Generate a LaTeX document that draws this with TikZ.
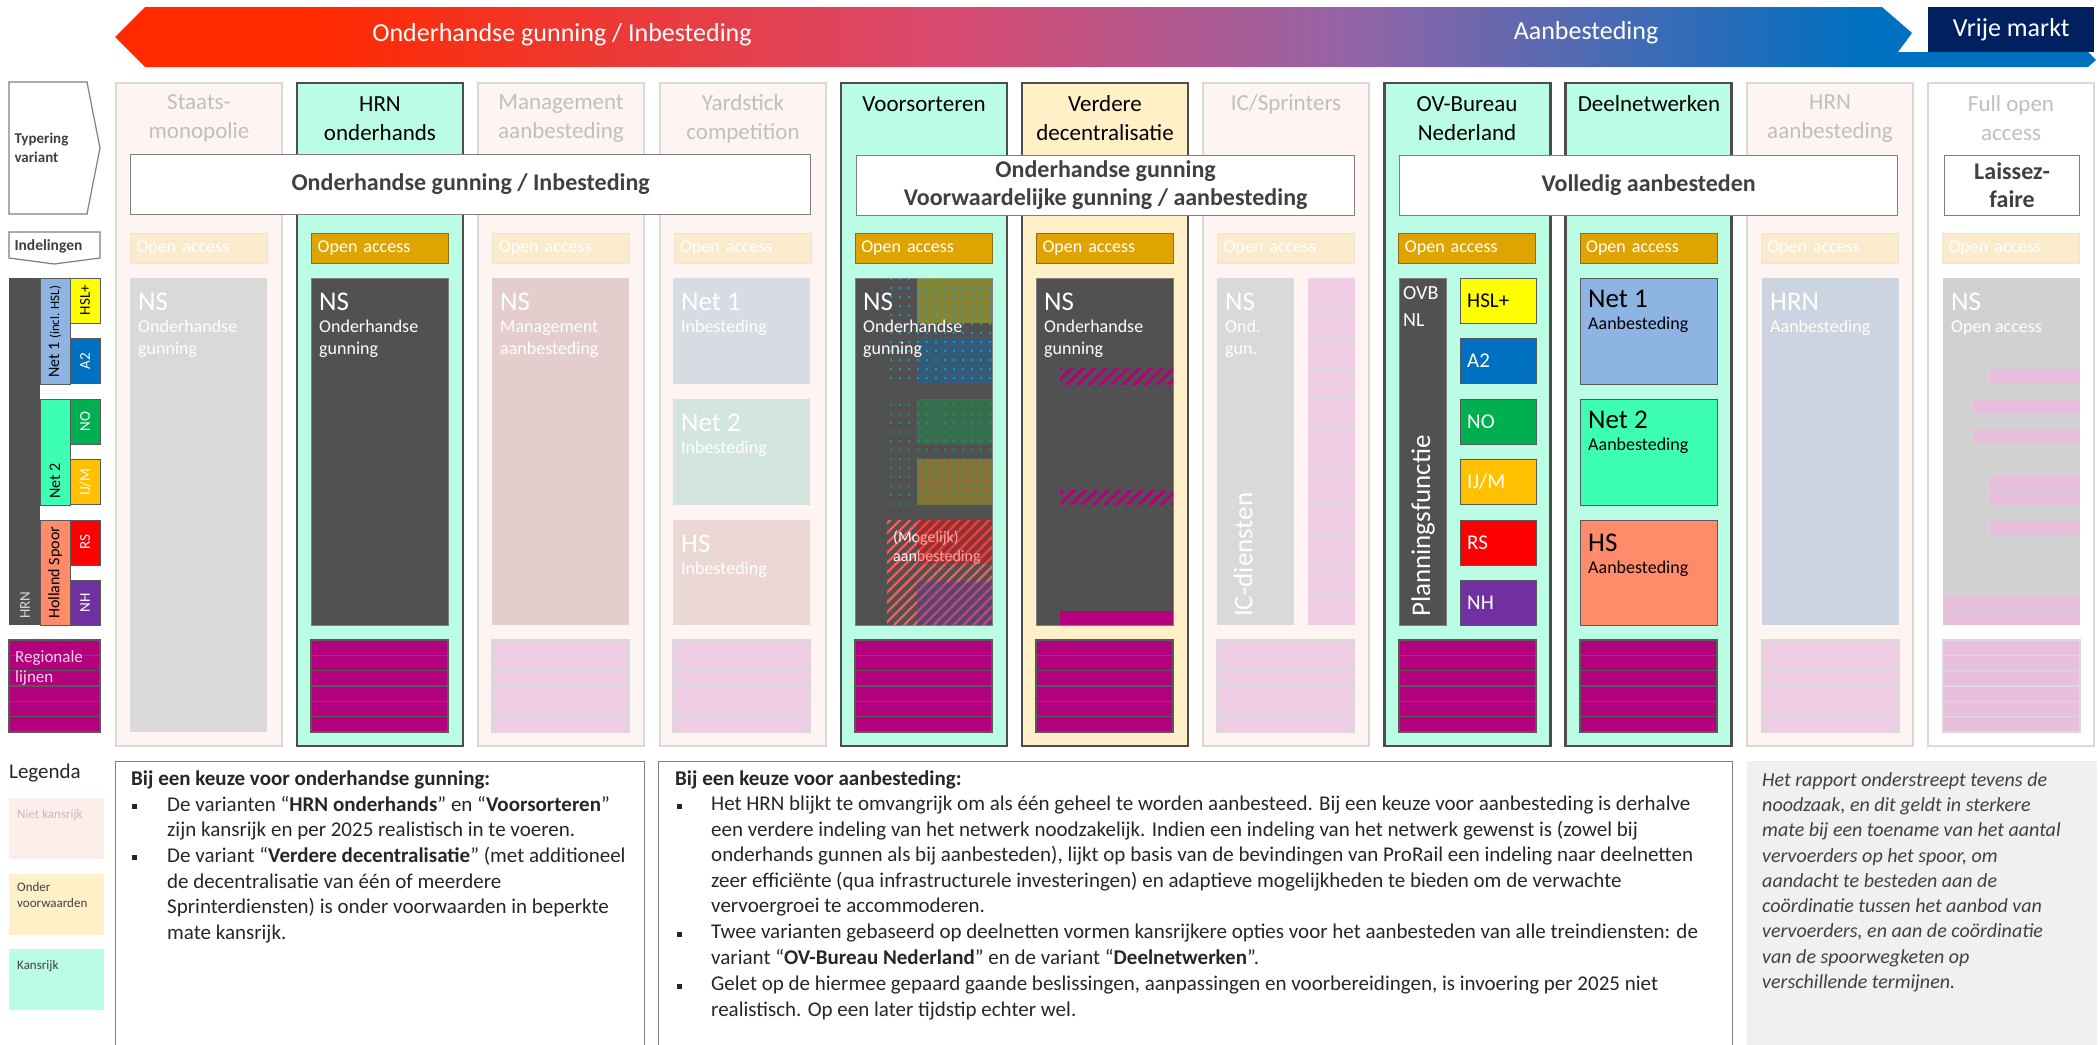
\documentclass[tikz,border=0pt]{standalone}
\usepackage{fontspec}
\setmainfont{Carlito}
\usetikzlibrary{patterns.meta,positioning}

\definecolor{kans}{HTML}{BAFDE4}
\definecolor{voorw}{HTML}{FFF0C8}
\definecolor{niet}{HTML}{FEF5F3}
\definecolor{nietleg}{HTML}{FDEEEB}
\definecolor{fadeline}{HTML}{D9D9D9}
\definecolor{darkline}{HTML}{4D4D4D}
\definecolor{darkbox}{HTML}{515151}
\definecolor{boxrand}{HTML}{7F7F7F}
\definecolor{dunrand}{HTML}{595959}
\definecolor{oagold}{HTML}{E0A400}
\definecolor{oarand}{HTML}{8C6D1F}
\definecolor{oafade}{HTML}{FAEBCD}
\definecolor{oafaderand}{HTML}{F0E3CC}
\definecolor{regmag}{HTML}{B3007D}
\definecolor{streep}{HTML}{595959}
\definecolor{regfade}{HTML}{EFCDE4}
\definecolor{lichtstreep}{HTML}{D9D9D9}
\definecolor{hslgeel}{HTML}{FFFF00}
\definecolor{atwee}{HTML}{0070C0}
\definecolor{nogroen}{HTML}{00B050}
\definecolor{ijmoranje}{HTML}{FFC000}
\definecolor{rsrood}{HTML}{FF0000}
\definecolor{nhpaars}{HTML}{7030A0}
\definecolor{neteen}{HTML}{8EB4E3}
\definecolor{nettwee}{HTML}{3CFFB4}
\definecolor{hszalm}{HTML}{FF8B6A}
\definecolor{fadetxt}{HTML}{BFBFBF}
\definecolor{kopgrijs}{HTML}{404040}
\definecolor{tekst}{HTML}{262626}
\definecolor{vrij}{HTML}{002060}
\definecolor{pijlrood}{HTML}{FF2A00}
\definecolor{pijlroze}{HTML}{D84A70}
\definecolor{pijlpaars}{HTML}{9664A6}
\definecolor{pijlblauw}{HTML}{0070C0}
\definecolor{kaderrand}{HTML}{7F7F7F}
\definecolor{nsgrijs}{HTML}{D9D9D9}
\definecolor{mgmtfade}{HTML}{E4CDCD}
\definecolor{netafade}{HTML}{D7DCE4}
\definecolor{netbfade}{HTML}{D3E5DE}
\definecolor{hsfade}{HTML}{EBD7D3}
\definecolor{hrnfade}{HTML}{CDD4E1}
\definecolor{opengrijs}{HTML}{D1D1D1}
\definecolor{roze}{HTML}{E8BEDD}
\definecolor{stipblauw}{HTML}{00B0F0}
\definecolor{arceerrood}{HTML}{FF5A5A}
\definecolor{grijsvak}{HTML}{F0F0F0}
\definecolor{regtxt}{HTML}{F4D2EA}

\newcommand{\kolomfont}{\fontsize{23}{29}\selectfont}
\newcommand{\typefont}{\fontsize{24}{28}\selectfont}
\newcommand{\grootfont}{\fontsize{27}{30}\selectfont}
\newcommand{\kleinfont}{\fontsize{18}{22}\selectfont}
\newcommand{\tekstfont}{\fontsize{21}{25.5}\selectfont}
\newcommand{\legfont}{\fontsize{13}{16}\selectfont}
\newcommand{\pijlfont}{\fontsize{26}{30}\selectfont}

\pgfdeclarehorizontalshading{pijlkleur}{100bp}{color(0bp)=(pijlrood); color(25bp)=(pijlrood); color(30bp)=(pijlrood); color(46bp)=(pijlroze); color(56bp)=(pijlpaars); color(69bp)=(pijlblauw); color(100bp)=(pijlblauw)}

\begin{document}
\begin{tikzpicture}[
    x=1pt, y=-1pt,
    typebox/.style={draw=kaderrand, fill=white, line width=1.2pt, anchor=north west, align=center, font=\typefont\bfseries, text=kopgrijs},
    oabox/.style={anchor=north west, minimum width=137pt, minimum height=30pt, text width=125pt, inner xsep=6pt, inner ysep=0pt, align=left, font=\kleinfont, text=white, line width=1pt},
    kolkop/.style={align=center, font=\kolomfont},
    bxtxt/.style={anchor=north west, align=left, inner sep=0pt, text=white, font=\kleinfont},
    vaktxt/.style={anchor=west, inner sep=0pt, font=\fontsize{21}{24}\selectfont},
    legtxt/.style={rotate=90, anchor=west, inner sep=0pt, font=\fontsize{16}{18}\selectfont},
    legvak/.style={rotate=90, inner sep=0pt, font=\fontsize{15}{18}\selectfont},
    alinea/.style={anchor=north west, align=left, inner sep=0pt, font=\tekstfont, text=tekst},
    kader/.style={draw=kaderrand, line width=1pt}
]
    \useasboundingbox (0,0) rectangle (2100,1044);

    \shade[shading=pijlkleur] (115,37) -- (145,7) -- (1882,7) -- (1912,33) -- (1898,52) -- (2088,52) -- (2096,60) -- (2088,67) -- (145,67) -- cycle;
    \node[fill=vrij, minimum width=166pt, minimum height=45pt, anchor=north west, inner sep=0pt, text=white, font=\pijlfont] (vrije) at (1928,7) {Vrije markt};
    \node[text=white, font=\pijlfont] (inbest) at (562,35) {Onderhandse gunning / Inbesteding};
    \node[text=white, font=\pijlfont] (aanbest) at (1586,33) {Aanbesteding};

    \draw[fill=white, draw=kaderrand, line width=1.2pt] (9,82) -- (87,82) -- (100,148) -- (87,214) -- (9,214) -- cycle;
    \node[anchor=west, align=left, font=\fontsize{15}{19}\selectfont\bfseries, text=kopgrijs] (typering) at (11,148) {Typering\\variant};
    \draw[fill=white, draw=kaderrand, line width=1.2pt] (9,232) -- (100,232) -- (100,258) -- (54,264) -- (9,258) -- cycle;
    \node[anchor=west, font=\fontsize{15.5}{19}\selectfont\bfseries, text=kopgrijs] (indelingen) at (11,246) {Indelingen};

    \fill[darkbox] (9,278) rectangle (40,625);
    \filldraw[fill=neteen, draw=dunrand] (40,278) rectangle (70,384);
    \filldraw[fill=nettwee, draw=dunrand] (40,399) rectangle (70,505);
    \filldraw[fill=hszalm, draw=dunrand] (40,520) rectangle (70,625);
    \foreach \y/\f in {278/hslgeel, 338/atwee, 399/nogroen, 459/ijmoranje, 520/rsrood, 580/nhpaars}
        \filldraw[fill=\f, draw=dunrand] (70,\y) rectangle ++(30,45);
    \node[legtxt, text=nsgrijs, font=\fontsize{15}{18}\selectfont] (lhrn) at (25,619) {HRN};
    \node[legtxt] (lneta) at (55,378) {Net 1 {\fontsize{13}{15}\selectfont(incl. HSL)}};
    \node[legtxt] (lnetb) at (55,499) {Net 2};
    \node[legtxt] (lhs) at (55,619) {Holland Spoor};
    \node[legvak] (lhsl) at (85,300) {HSL+};
    \node[legvak, text=white] (latwee) at (85,361) {A2};
    \node[legvak, text=white] (lno) at (85,421.5) {NO};
    \node[legvak, text=white] (lijm) at (85,482) {IJ/M};
    \node[legvak, text=white] (lrs) at (85,542.5) {RS};
    \node[legvak, text=white] (lnh) at (85,602.5) {NH};
    \filldraw[fill=regmag, draw=streep, line width=1.2pt] (9,640) rectangle (100,732);
    \foreach \k in {1,...,5}
        \draw[streep, line width=1.2pt] (9,{640+\k*92/6}) -- (100,{640+\k*92/6});
    \node[bxtxt, text=regtxt, font=\fontsize{17}{20}\selectfont] (lregio) at (15,650) {Regionale\\lijnen};

    \foreach \kol/\f/\d/\w in {1/niet/fadeline/2, 2/kans/darkline/2.5, 3/niet/fadeline/2, 4/niet/fadeline/2, 5/kans/darkline/2.5, 6/voorw/darkline/2.5, 7/niet/fadeline/2, 8/kans/darkline/2.5, 9/kans/darkline/2.5, 10/niet/fadeline/2, 11/white/fadeline/2}
        \draw[fill=\f, draw=\d, line width=\w pt] ({116+(\kol-1)*181.2},83) rectangle ++(166,663);

    \node[kolkop, text=fadetxt] (staats) at (199,118.5) {Staats-\\monopolie};
    \node[kolkop] (hrnonder) at (380,118.5) {HRN\\onderhands};
    \node[kolkop, text=fadetxt] (mgmt) at (561,118.5) {Management\\aanbesteding};
    \node[kolkop, text=fadetxt] (yard) at (743,118.5) {Yardstick\\competition};
    \node[kolkop] (voors) at (924,104) {Voorsorteren};
    \node[kolkop] (verdere) at (1105,118.5) {Verdere\\decentralisatie};
    \node[kolkop, text=fadetxt] (icspr) at (1286,104) {IC/Sprinters};
    \node[kolkop] (ovb) at (1467,118.5) {OV-Bureau\\Nederland};
    \node[kolkop] (deelnet) at (1649,104) {Deelnetwerken};
    \node[kolkop, text=fadetxt] (hrnaanb) at (1830,118.5) {HRN\\aanbesteding};
    \node[kolkop, text=fadetxt] (fullopen) at (2011,118.5) {Full open\\access};

    \node[typebox, minimum width=680pt, minimum height=60pt] (ondh) at (130,154) {Onderhandse gunning / Inbesteding};
    \node[typebox, minimum width=498pt, minimum height=60pt] (voorwg) at (856,155) {Onderhandse gunning\\Voorwaardelijke gunning / aanbesteding};
    \node[typebox, minimum width=498pt, minimum height=60pt] (volledig) at (1399,155) {Volledig aanbesteden};
    \node[typebox, minimum width=135pt, minimum height=60pt] (laissez) at (1944,155) {Laissez-\\faire};

    \foreach \kol/\f/\d in {1/oafade/oafaderand, 2/oagold/oarand, 3/oafade/oafaderand, 4/oafade/oafaderand, 5/oagold/oarand, 6/oagold/oarand, 7/oafade/oafaderand, 8/oagold/oarand, 9/oagold/oarand, 10/oafade/oafaderand, 11/oafade/oafaderand}
        \node[oabox, fill=\f, draw=\d] (oa\kol) at ({130+(\kol-1)*181.2},233) {Open access};

    \fill[nsgrijs] (130,278) rectangle ++(137,454);
    \node[bxtxt] (nsa) at (138,293) {{\grootfont NS}\\Onderhandse\\gunning};

    \filldraw[fill=darkbox, draw=boxrand] (311,278) rectangle ++(137,347);
    \node[bxtxt] (nsb) at (319,293) {{\grootfont NS}\\Onderhandse\\gunning};

    \fill[mgmtfade] (492,278) rectangle ++(137,347);
    \node[bxtxt] (nsc) at (500,293) {{\grootfont NS}\\Management\\aanbesteding};

    \fill[netafade] (673,278) rectangle ++(137,106);
    \fill[netbfade] (673,399) rectangle ++(137,106);
    \fill[hsfade] (673,520) rectangle ++(137,105);
    \node[bxtxt] (yneta) at (681,293) {{\grootfont Net 1}\\Inbesteding};
    \node[bxtxt] (ynetb) at (681,414) {{\grootfont Net 2}\\Inbesteding};
    \node[bxtxt] (yhs) at (681,535) {{\grootfont HS}\\Inbesteding};

    \filldraw[fill=darkbox, draw=boxrand] (855,278) rectangle ++(137,347);
    \fill[hslgeel, opacity=.3] (917,278) rectangle (992,323);
    \fill[atwee, opacity=.35] (917,338) rectangle (992,384);
    \fill[nogroen, opacity=.3] (917,399) rectangle (992,444);
    \fill[ijmoranje, opacity=.3] (917,459) rectangle (992,505);
    \fill[pattern={Dots[distance=9pt, radius=1.2pt]}, pattern color=stipblauw] (887,278) rectangle (992,384);
    \fill[pattern={Dots[distance=9pt, radius=1.2pt]}, pattern color=nogroen] (887,399) rectangle (992,505);
    \fill[pattern={Lines[angle=45, distance=7pt, line width=2.2pt]}, pattern color=arceerrood] (887,520) rectangle (992,625);
    \node[bxtxt, font=\fontsize{16}{19}\selectfont] (mogelijk) at (893,531) {(Mogelijk)\\aanbesteding};
    \fill[rsrood, opacity=.35] (917,520) rectangle (992,564);
    \fill[nhpaars, opacity=.4] (917,582) rectangle (992,625);
    \node[bxtxt] (nse) at (863,293) {{\grootfont NS}\\Onderhandse\\gunning};

    \filldraw[fill=darkbox, draw=boxrand] (1036,278) rectangle ++(137,347);
    \fill[pattern={Lines[angle=45, distance=8pt, line width=3pt]}, pattern color=regmag] (1060,368) rectangle (1173,384);
    \fill[pattern={Lines[angle=45, distance=8pt, line width=3pt]}, pattern color=regmag] (1060,490) rectangle (1173,504);
    \fill[regmag] (1060,611) rectangle (1173,625);
    \node[bxtxt] (nsf) at (1044,293) {{\grootfont NS}\\Onderhandse\\gunning};

    \fill[nsgrijs] (1217,278) rectangle (1294,625);
    \fill[regfade] (1308,278) rectangle (1355,625);
    \foreach \k in {1,...,22}
        \draw[lichtstreep, line width=1pt] (1308,{278+\k*347/23}) -- (1355,{278+\k*347/23});
    \node[bxtxt] (nsg) at (1225,293) {{\grootfont NS}\\Ond.\\gun.};
    \node[legtxt, text=white, font=\grootfont] (icdienst) at (1243,617) {IC-diensten};

    \filldraw[fill=darkbox, draw=boxrand] (1399,278) rectangle (1446,625);
    \foreach \y/\f in {278/hslgeel, 338/atwee, 399/nogroen, 459/ijmoranje, 520/rsrood, 580/nhpaars}
        \filldraw[fill=\f, draw=dunrand] (1460,\y) rectangle ++(76,45);
    \node[bxtxt, font=\fontsize{20}{27}\selectfont] (ovbnl) at (1403,286) {OVB\\NL};
    \node[legtxt, text=white, font=\grootfont] (planning) at (1423,617) {Planningsfunctie};
    \node[vaktxt] (ohsl) at (1467,300.5) {HSL+};
    \node[vaktxt, text=white] (oatwee) at (1467,361) {A2};
    \node[vaktxt, text=white] (ono) at (1467,421.5) {NO};
    \node[vaktxt, text=white] (oijm) at (1467,482) {IJ/M};
    \node[vaktxt, text=white] (ors) at (1467,542.5) {RS};
    \node[vaktxt, text=white] (onh) at (1467,602.5) {NH};

    \filldraw[fill=neteen, draw=dunrand] (1580,278) rectangle ++(137,106);
    \filldraw[fill=nettwee, draw=dunrand] (1580,399) rectangle ++(137,106);
    \filldraw[fill=hszalm, draw=dunrand] (1580,520) rectangle ++(137,105);
    \node[bxtxt, text=black] (dneta) at (1588,290) {{\grootfont Net 1}\\Aanbesteding};
    \node[bxtxt, text=black] (dnetb) at (1588,411) {{\grootfont Net 2}\\Aanbesteding};
    \node[bxtxt, text=black] (dhs) at (1588,534) {{\grootfont HS}\\Aanbesteding};

    \fill[hrnfade] (1762,278) rectangle ++(137,347);
    \node[bxtxt] (hrnb) at (1770,293) {{\grootfont HRN}\\Aanbesteding};

    \fill[opengrijs] (1943,278) rectangle ++(137,347);
    \foreach \xa/\ya in {1990/369, 1974/400, 1974/430, 1990/476, 1990/491, 1990/521, 1943/596, 1943/611}
        \fill[roze] (\xa,\ya) rectangle (2080,{\ya+14});
    \node[bxtxt] (nsk) at (1951,293) {{\grootfont NS}\\Open access};

    \foreach \xl/\f/\l in {311/regmag/streep, 492/regfade/lichtstreep, 673/regfade/lichtstreep, 855/regmag/streep, 1036/regmag/streep, 1217/regfade/lichtstreep, 1399/regmag/streep, 1580/regmag/streep, 1762/regfade/lichtstreep, 1943/roze/lichtstreep} {
        \draw[fill=\f, draw=\l, line width=1.2pt] (\xl,640) rectangle ++(137,92);
        \foreach \k in {1,...,5}
            \draw[draw=\l, line width=1.2pt] (\xl,{640+\k*92/6}) -- ++(137,0);
    }

    \node[anchor=west, inner sep=0pt, font=\fontsize{21}{24}\selectfont, text=tekst] (legenda) at (9,773) {Legenda};
    \fill[nietleg] (9,798) rectangle (104,859);
    \fill[voorw] (9,874) rectangle (104,935);
    \fill[kans] (9,949) rectangle (104,1010);
    \node[anchor=west, inner sep=0pt, font=\legfont, text=fadetxt] (lniet) at (17,815) {Niet kansrijk};
    \node[anchor=north west, align=left, inner sep=0pt, font=\legfont, text=kopgrijs] (lvoorw) at (17,882) {Onder\\voorwaarden};
    \node[anchor=west, inner sep=0pt, font=\legfont, text=kopgrijs] (lkans) at (17,966) {Kansrijk};

    \draw[kader] (115,761) rectangle (644,1050);
    \draw[kader] (658,761) rectangle (1732,1050);
    \fill[grijsvak] (1747,761) rectangle (2097,1050);

    \node[alinea, font=\tekstfont\bfseries] (kopa) at (131,771) {Bij een keuze voor onderhandse gunning:};
    \fill[tekst] (132,804) rectangle ++(5,5);
    \node[alinea] (puntaa) at (167,796) {De varianten “\textbf{HRN onderhands}” en “\textbf{Voorsorteren}”\\zijn kansrijk en per 2025 realistisch in te voeren.};
    \fill[tekst] (132,855) rectangle ++(5,5);
    \node[alinea] (puntab) at (167,847) {De variant “\textbf{Verdere decentralisatie}” (met additioneel\\de decentralisatie van één of meerdere\\Sprinterdiensten) is onder voorwaarden in beperkte\\mate kansrijk.};

    \node[alinea, font=\tekstfont\bfseries] (kopb) at (675,771) {Bij een keuze voor aanbesteding:};
    \fill[tekst] (677,804) rectangle ++(5,5);
    \node[alinea] (puntba) at (711,796) {Het HRN blijkt te omvangrijk om als één geheel te worden aanbesteed. Bij een keuze voor aanbesteding is derhalve\\een verdere indeling van het netwerk noodzakelijk. Indien een indeling van het netwerk gewenst is (zowel bij\\onderhands gunnen als bij aanbesteden), lijkt op basis van de bevindingen van ProRail een indeling naar deelnetten\\zeer efficiënte (qua infrastructurele investeringen) en adaptieve mogelijkheden te bieden om de verwachte\\vervoergroei te accommoderen.};
    \fill[tekst] (677,932) rectangle ++(5,5);
    \node[alinea] (puntbb) at (711,924) {Twee varianten gebaseerd op deelnetten vormen kansrijkere opties voor het aanbesteden van alle treindiensten: de\\variant “\textbf{OV-Bureau Nederland}” en de variant “\textbf{Deelnetwerken}”.};
    \fill[tekst] (677,984) rectangle ++(5,5);
    \node[alinea] (puntbc) at (711,976) {Gelet op de hiermee gepaard gaande beslissingen, aanpassingen en voorbereidingen, is invoering per 2025 niet\\realistisch. Op een later tijdstip echter wel.};

    \node[alinea, font=\fontsize{20}{25.3}\selectfont\itshape, text=kopgrijs] (rapport) at (1762,772) {Het rapport onderstreept tevens de\\noodzaak, en dit geldt in sterkere\\mate bij een toename van het aantal\\vervoerders op het spoor, om\\aandacht te besteden aan de\\coördinatie tussen het aanbod van\\vervoerders, en aan de coördinatie\\van de spoorwegketen op\\verschillende termijnen.};
\end{tikzpicture}
\end{document}
